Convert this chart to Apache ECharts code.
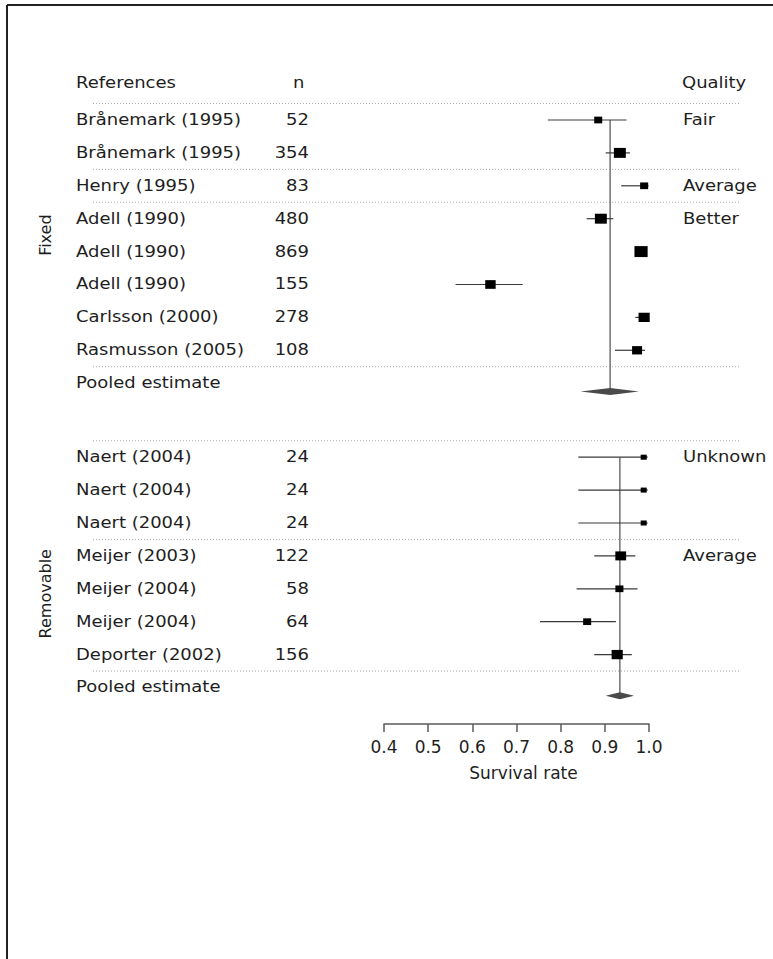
<!DOCTYPE html>
<html><head><meta charset="utf-8">
<script src="https://cdn.jsdelivr.net/npm/echarts@6/dist/echarts.min.js"></script>
<style>html,body{margin:0;padding:0;background:#fff}#c{width:773px;height:959px}</style>
</head><body><div id="c"></div>
<script>
// ---------- data ----------
const fixedRefs = ['Brånemark (1995)', 'Brånemark (1995)', 'Henry (1995)', 'Adell (1990)', 'Adell (1990)', 'Adell (1990)', 'Carlsson (2000)', 'Rasmusson (2005)'];
const fixedN = [52, 354, 83, 480, 869, 155, 278, 108];
const fixedEst = [0.885, 0.934, 0.989, 0.891, 0.982, 0.641, 0.989, 0.973];
const fixedLow = [0.771, 0.902, 0.937, 0.859, 0.975, 0.562, 0.969, 0.923];
const fixedHigh = [0.949, 0.957, 0.999, 0.919, 0.989, 0.714, 0.999, 0.991];
const fixedQuality = ['Fair', '', 'Average', 'Better', '', '', '', ''];
const fixedWeight = [5, 11, 5, 11, 13.4, 8.4, 9.6, 7.7];

const removableRefs = ['Naert (2004)', 'Naert (2004)', 'Naert (2004)', 'Meijer (2003)', 'Meijer (2004)', 'Meijer (2004)', 'Deporter (2002)'];
const removableN = [24, 24, 24, 122, 58, 64, 156];
const removableEst = [0.988, 0.988, 0.988, 0.936, 0.933, 0.860, 0.928];
const removableLow = [0.840, 0.840, 0.840, 0.876, 0.836, 0.753, 0.876];
const removableHigh = [0.997, 0.997, 0.997, 0.969, 0.974, 0.925, 0.961];
const removableQuality = ['Unknown', '', '', 'Average', '', '', ''];
const removableWeight = [2.8, 2.8, 2.8, 9, 5, 5, 9.6];

const groupNames = ['Fixed', 'Removable'];
const pooledLabel = 'Pooled estimate';
const pooledEst = [0.912, 0.934];
const pooledLow = [0.845, 0.902];
const pooledHigh = [0.977, 0.966];

const headers = ['References', 'n', 'Quality'];
const xTickLabels = ['0.4', '0.5', '0.6', '0.7', '0.8', '0.9', '1.0'];
const xAxisTitle = 'Survival rate';

// ---------- layout (row units) ----------
const FONT = '"DejaVu Sans", sans-serif';
const groups = [
  {refs: fixedRefs, n: fixedN, est: fixedEst, low: fixedLow, high: fixedHigh, q: fixedQuality, w: fixedWeight, labelRow: 3.5},
  {refs: removableRefs, n: removableN, est: removableEst, low: removableLow, high: removableHigh, q: removableQuality, w: removableWeight, labelRow: 14.4}
];
const rows = [];
const seps = [];
const refLines = [];
let start = 0;
rows.push({kind: 'header', y: -1.12, x: 0.4});
seps.push(-0.5);
groups.forEach((g, gi) => {
  if (gi > 0) seps.push(start - 0.5);
  g.refs.forEach((name, i) => {
    if (i > 0 && g.q[i]) seps.push(start + i - 0.5);
    rows.push({kind: 'study', y: start + i, x: g.est[i], name, n: g.n[i], q: g.q[i], low: g.low[i], high: g.high[i], w: g.w[i]});
  });
  const py = start + g.refs.length;
  seps.push(py - 0.5);
  rows.push({kind: 'pooled', y: py, dy: py + 0.25, x: pooledEst[gi], low: pooledLow[gi], high: pooledHigh[gi]});
  rows.push({kind: 'group', y: g.labelRow, x: 0.4, name: groupNames[gi]});
  refLines.push({x: pooledEst[gi], y0: start, y1: py + 0.25});
  start = py + 2.25;
});

function txt(x, y, text, align, size, extra) {
  return Object.assign({
    type: 'text', x: x, y: y, scaleX: 1.2,
    style: {text: text, x: 0, y: 0, fill: '#1e1e1e', font: (size || 15) + 'px ' + FONT,
      align: align, textAlign: align, verticalAlign: 'middle', textVerticalAlign: 'middle'}
  }, extra || {});
}

function renderRow(params, api) {
  const r = rows[params.dataIndex];
  const yPx = api.coord([0.4, r.y])[1];
  const ch = [];
  if (r.kind === 'header') {
    ch.push(txt(76, yPx, headers[0], 'left'));
    ch.push(txt(293, yPx, headers[1], 'left'));
    ch.push(txt(682, yPx, headers[2], 'left'));
  } else if (r.kind === 'study') {
    const pL = api.coord([r.low, r.y]), pH = api.coord([r.high, r.y]), pE = api.coord([r.x, r.y]);
    ch.push({type: 'line', shape: {x1: pL[0], y1: pL[1], x2: pH[0], y2: pH[1]}, style: {stroke: '#3a3a3a', lineWidth: 1.2}});
    const h = Math.sqrt(r.w) * 3, w = h * 1.2;
    ch.push({type: 'rect', shape: {x: pE[0] - w / 2, y: pE[1] - h / 2, width: w, height: h}, style: {fill: '#000'}});
    ch.push(txt(76, yPx, r.name, 'left'));
    ch.push(txt(309, yPx, String(r.n), 'right'));
    if (r.q) ch.push(txt(683, yPx, r.q, 'left'));
  } else if (r.kind === 'pooled') {
    ch.push(txt(76, yPx, pooledLabel, 'left'));
    const pL = api.coord([r.low, r.dy]), pH = api.coord([r.high, r.dy]), pE = api.coord([r.x, r.dy]);
    ch.push({type: 'polygon', shape: {points: [[pL[0], pL[1]], [pE[0], pE[1] - 3.5], [pH[0], pH[1]], [pE[0], pE[1] + 3.5]]}, style: {fill: '#4a4a4a'}});
  } else if (r.kind === 'group') {
    ch.push({type: 'text', x: 45, y: yPx, rotation: Math.PI / 2,
      style: {text: r.name, x: 0, y: 0, fill: '#1e1e1e', font: '16px ' + FONT, align: 'center', textAlign: 'center', verticalAlign: 'middle', textVerticalAlign: 'middle'}});
  }
  return {type: 'group', children: ch};
}

function renderSep(params, api) {
  const y = api.coord([0.4, seps[params.dataIndex]])[1];
  return {type: 'line', shape: {x1: 93, y1: y, x2: 740, y2: y}, style: {stroke: '#a8a8a8', lineWidth: 1, lineDash: [1, 2]}};
}

function renderRef(params, api) {
  const l = refLines[params.dataIndex];
  const a = api.coord([l.x, l.y0]), b = api.coord([l.x, l.y1]);
  return {type: 'line', shape: {x1: a[0], y1: a[1], x2: b[0], y2: b[1]}, style: {stroke: '#7a7a7a', lineWidth: 1.6}};
}

const chart = echarts.init(document.getElementById('c'), null, {renderer: 'svg'});
chart.setOption({
  backgroundColor: '#fff',
  animation: false,
  grid: {left: 384, right: 124, top: 70.65, bottom: 235},
  xAxis: {
    type: 'value', min: 0.4, max: 1.0, interval: 0.1, position: 'bottom',
    splitLine: {show: false},
    axisLine: {onZero: false, lineStyle: {color: '#5a5a5a', width: 1.5}},
    axisTick: {length: 8, lineStyle: {color: '#5a5a5a', width: 1.5}},
    axisLabel: {margin: 14, color: '#1e1e1e', fontSize: 17, fontFamily: FONT,
      formatter: v => xTickLabels[Math.round((v - 0.4) * 10)]},
    name: xAxisTitle, nameLocation: 'middle', nameGap: 40,
    nameTextStyle: {color: '#1e1e1e', fontSize: 17, fontFamily: FONT, padding: [0, 0, 0, 14]}
  },
  yAxis: {type: 'value', inverse: true, min: -1.5, max: 18.36, show: false},
  graphic: [
    {type: 'line', shape: {x1: 7, y1: 5, x2: 773, y2: 5}, style: {stroke: '#222', lineWidth: 2}},
    {type: 'line', shape: {x1: 7, y1: 5, x2: 7, y2: 959}, style: {stroke: '#222', lineWidth: 2}}
  ],
  series: [
    {type: 'custom', renderItem: renderSep, data: seps.map(s => [0.4, s]), z: 1, silent: true},
    {type: 'custom', renderItem: renderRef, data: refLines.map(l => [l.x, l.y0]), z: 2, silent: true},
    {type: 'custom', renderItem: renderRow, data: rows.map(r => [r.x, r.y]), z: 3, silent: true}
  ]
});
</script>
</body></html>
